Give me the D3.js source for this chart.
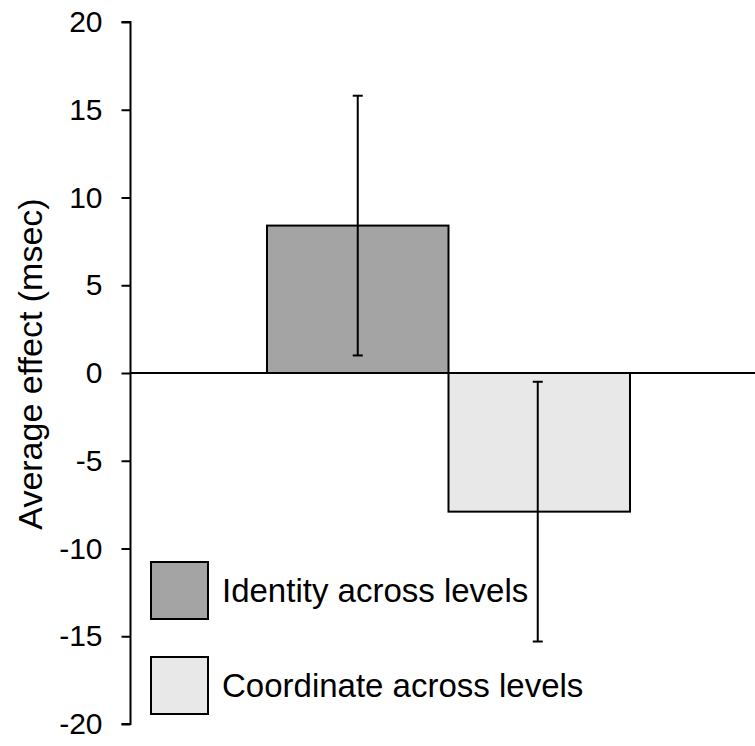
<!DOCTYPE html>
<html><head><meta charset="utf-8">
<script src="https://cdn.jsdelivr.net/npm/d3@7"></script>
<style>body{margin:0;background:#fff}svg{display:block}text{font-family:"Liberation Sans",Arial,sans-serif}</style>
</head><body>
<svg id="c" width="755" height="746"></svg>
<script>
const categories = ["Identity across levels", "Coordinate across levels"];
const values = [8.4, -7.9];
const errors = [7.4, 7.4];
const fills = ["#a4a4a4", "#e8e8e8"];
const yTicks = [-20, -15, -10, -5, 0, 5, 10, 15, 20];
const yTitle = "Average effect (msec)";

const svg = d3.select("#c");
const axisX = 130.5;
const y = d3.scaleLinear().domain([-20, 20]).range([724, 22]);
const x = d3.scaleBand().domain(categories).range([267, 630]).paddingInner(0).paddingOuter(0);

// bars
svg.selectAll("rect.bar").data(categories).enter().append("rect")
  .attr("x", d => x(d))
  .attr("width", x.bandwidth())
  .attr("y", (d,i) => y(Math.max(0, values[i])))
  .attr("height", (d,i) => Math.abs(y(values[i]) - y(0)))
  .attr("fill", (d,i) => fills[i])
  .attr("stroke", "#000").attr("stroke-width", 2);

// zero line
svg.append("line").attr("x1", axisX).attr("x2", 755).attr("y1", y(0)).attr("y2", y(0))
  .attr("stroke", "#000").attr("stroke-width", 2);

// error bars
categories.forEach((c, i) => {
  const cx = x(c) + x.bandwidth()/2 + (i === 0 ? 0 : -1.5);
  const top = y(values[i] + errors[i]), bot = y(values[i] - errors[i]);
  const g = svg.append("g").attr("stroke", "#000").attr("stroke-width", 2);
  g.append("line").attr("x1", cx).attr("x2", cx).attr("y1", top).attr("y2", bot);
  g.append("line").attr("x1", cx-5).attr("x2", cx+5).attr("y1", top).attr("y2", top);
  g.append("line").attr("x1", cx-5).attr("x2", cx+5).attr("y1", bot).attr("y2", bot);
});

// y axis
const ax = svg.append("g").attr("transform", `translate(${axisX},0)`)
  .call(d3.axisLeft(y).tickValues(yTicks).tickSize(9).tickPadding(19).tickFormat(d3.format("d")));
ax.select(".domain").attr("stroke", "#000").attr("stroke-width", 2).attr("d", `M-9,${y(20)}H0V${y(-20)}H-9`);
ax.selectAll(".tick line").attr("stroke", "#000").attr("stroke-width", 2);
ax.selectAll(".tick text").attr("font-size", 30).attr("fill", "#000")
  .attr("font-family", "Liberation Sans, Arial, sans-serif").text(d => d < 0 ? "-" + Math.abs(d) : d);

// y title
svg.append("text").attr("transform", `translate(42,${364}) rotate(-90)`)
  .attr("text-anchor", "middle").attr("font-size", 34).attr("fill", "#000").text(yTitle);

// legend
const legY = [562, 657];
categories.forEach((c, i) => {
  svg.append("rect").attr("x", 151).attr("y", legY[i]).attr("width", 57).attr("height", 57)
    .attr("fill", fills[i]).attr("stroke", "#000").attr("stroke-width", 2);
  svg.append("text").attr("x", 222).attr("y", legY[i] + 28.5).attr("dy", "0.35em")
    .attr("font-size", 33).attr("fill", "#000").text(c);
});
</script>
</body></html>
